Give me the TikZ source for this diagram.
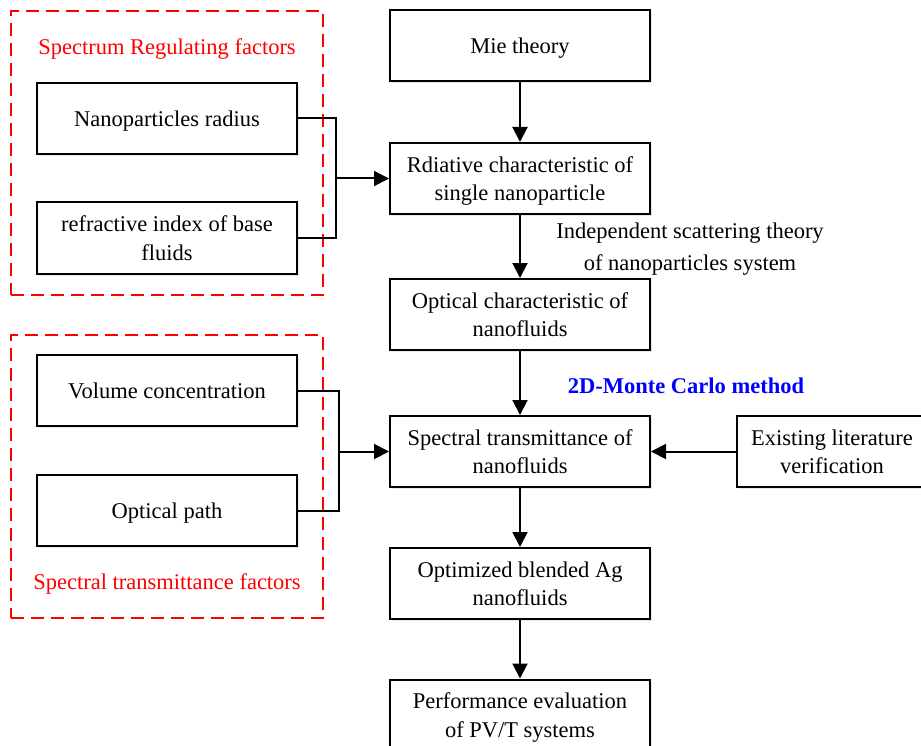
\documentclass[tikz,border=0pt]{standalone}
\usepackage{fontspec}
\setmainfont{Liberation Serif}
\usetikzlibrary{arrows.meta,shadows}
\newcommand{\fs}{\fontsize{22.5}{28.5}\selectfont}
\begin{document}
\begin{tikzpicture}[x=1pt,y=-1pt,
  box/.style={draw, line width=2pt, minimum width=260pt, minimum height=71pt, align=center, inner sep=2pt, font=\fs, fill=white, text depth=0pt,
    drop shadow={opacity=0.18, shadow xshift=2pt, shadow yshift=-2pt}},
  redbox/.style={draw=red, line width=2pt, dash pattern=on 13pt off 7pt, inner sep=0pt},
  redlabel/.style={text=red, font=\fs},
  plain/.style={font=\fs},
  conn/.style={line width=2pt},
  arr/.style={line width=2pt, -{Triangle[length=15pt,width=15pt]}}]
\useasboundingbox (0,0) rectangle (921,746);
% red groups
\node[redbox, minimum width=312pt, minimum height=284pt] (g1) at (167,153) {};
\node[redbox, minimum width=312pt, minimum height=283pt] (g2) at (167,476.5) {};
\node[redlabel] (t1) at (167,49) {Spectrum Regulating factors};
\node[redlabel] (t2) at (167,584) {Spectral transmittance factors};
% left boxes
\node[box] (nr) at (167,118.5) {Nanoparticles radius};
\node[box] (ri) at (167,238) {refractive index of base\\fluids};
\node[box] (vc) at (167,390.5) {Volume concentration};
\node[box] (op) at (167,510.5) {Optical path};
% main column
\node[box] (mie) at (520,45.5) {Mie theory};
\node[box] (rad) at (520,178.5) {Rdiative characteristic of\\single nanoparticle};
\node[box] (opt) at (520,314.5) {Optical characteristic of\\nanofluids};
\node[box] (spec) at (520,451.5) {Spectral transmittance of\\nanofluids};
\node[box] (optim) at (520,583.5) {Optimized blended Ag\\nanofluids};
\node[box] (perf) at (520,715) {Performance evaluation\\of PV/T systems};
\node[box, minimum width=190pt] (exist) at (832,451.5) {Existing literature\\verification};
% labels
\node[plain] (ind1) at (690,233) {Independent scattering theory};
\node[plain] (ind2) at (690,265) {of nanoparticles system};
\node[font=\fs\bfseries, text=blue] (mc) at (686,386) {2D-Monte Carlo method};
% connectors
\coordinate (j1) at (336,178.5);
\coordinate (j2) at (339,451.5);
\draw[conn] (nr.east) -| (j1) |- (ri.east);
\draw[arr] (j1) -- (rad.west);
\draw[conn] (vc.east) -| (j2) |- (op.east);
\draw[arr] (j2) -- (spec.west);
\draw[arr] (mie) -- (rad);
\draw[arr] (rad) -- (opt);
\draw[arr] (opt) -- (spec);
\draw[arr] (spec) -- (optim);
\draw[arr] (optim) -- (perf);
\draw[arr] (exist) -- (spec);
\end{tikzpicture}
\end{document}
